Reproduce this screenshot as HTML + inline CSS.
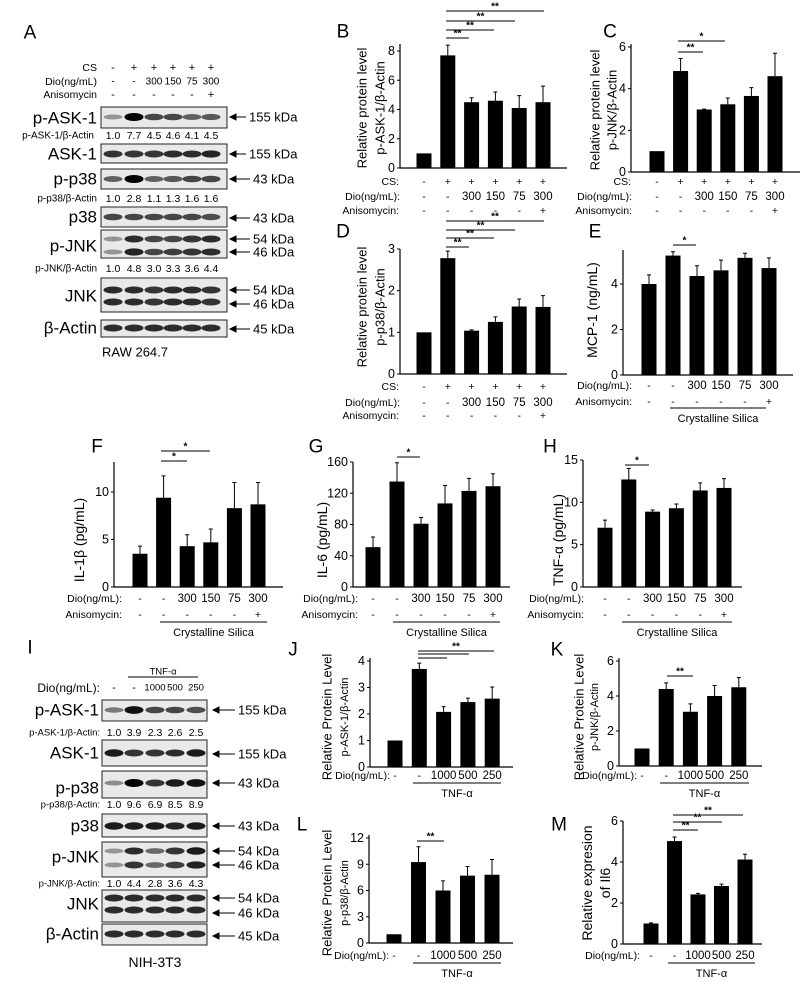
<!DOCTYPE html>
<html><head><meta charset="utf-8">
<style>
html,body{margin:0;padding:0;background:#fff;}
svg{display:block;font-family:"Liberation Sans",Arial,sans-serif;}
</style></head>
<body>
<svg id="fig" width="802" height="982" viewBox="0 0 802 982" xmlns="http://www.w3.org/2000/svg"></svg>
<script>
// ---- chart data ----
const csRow = ['-', '+', '+', '+', '+', '+'];
const dioRow = ['-', '-', '300', '150', '75', '300'];
const anisoRow = ['-', '-', '-', '-', '-', '+'];
const tnfDioRow = ['-', '-', '1000', '500', '250'];

const bVals = [1.0, 7.7, 4.5, 4.6, 4.1, 4.5];
const bErr = [1.0, 8.4, 4.8, 5.2, 4.95, 5.6];
const bTicks = [0, 2, 4, 6, 8];

const cVals = [1.0, 4.85, 3.0, 3.25, 3.65, 4.6];
const cErr = [1.0, 5.45, 3.02, 3.55, 4.05, 5.7];
const cTicks = [0, 2, 4, 6];

const dVals = [1.0, 2.78, 1.04, 1.25, 1.62, 1.61];
const dErr = [1.0, 2.95, 1.06, 1.37, 1.8, 1.88];
const dTicks = [0, 1, 2, 3];

const eVals = [4.0, 5.25, 4.35, 4.6, 5.15, 4.7];
const eErr = [4.4, 5.42, 4.8, 5.05, 5.35, 5.15];
const eTicks = [0, 2, 4];

const fVals = [3.5, 9.4, 4.3, 4.7, 8.3, 8.7];
const fErr = [4.3, 11.7, 5.5, 6.1, 11.0, 11.0];
const fTicks = [0, 5, 10];

const gVals = [51, 135, 81, 107, 123, 129];
const gErr = [64, 159, 89, 130, 139, 145];
const gTicks = [0, 40, 80, 120, 160];

const hVals = [7.0, 12.7, 8.9, 9.3, 11.4, 11.7];
const hErr = [7.9, 14.0, 9.1, 9.8, 12.3, 12.8];
const hTicks = [0, 5, 10, 15];

const jVals = [1.0, 3.7, 2.08, 2.45, 2.58];
const jErr = [1.0, 3.92, 2.28, 2.6, 3.02];
const jTicks = [0, 1, 2, 3, 4];

const kVals = [1.0, 4.4, 3.1, 4.0, 4.5];
const kErr = [1.0, 4.75, 3.55, 4.6, 5.05];
const kTicks = [0, 2, 4, 6];

const lVals = [1.0, 9.25, 6.0, 7.7, 7.8];
const lErr = [1.0, 11.0, 7.1, 8.75, 9.55];
const lTicks = [0, 3, 6, 9, 12];

const mVals = [1.0, 5.02, 2.42, 2.83, 4.12];
const mErr = [1.03, 5.22, 2.47, 2.92, 4.38];
const mTicks = [0, 2, 4, 6];

// ---- helpers ----
const NS = 'http://www.w3.org/2000/svg';
const svg = document.getElementById('fig');
function mk(tag, attrs, parent) {
  const e = document.createElementNS(NS, tag);
  for (const k in attrs) e.setAttribute(k, attrs[k]);
  (parent || svg).appendChild(e);
  return e;
}
function txt(x, y, s, size, anchor, parent, extra) {
  const t = mk('text', Object.assign({x: x, y: y, 'font-size': size, 'text-anchor': anchor || 'middle', 'dominant-baseline': 'central', fill: '#000'}, extra || {}), parent);
  t.textContent = s;
  return t;
}
function group(name) {
  const g = mk('g', {});
  
  
  return g;
}

// ---- chart drawing ----
function chart(name, L, vals, errs, ticks, rows, titles) {
  const g = group(name);
  const ys = v => L.y0 - (v / L.yMax) * (L.y0 - L.yTop);
  const xs = i => L.x0 + L.off + i * L.step;
  const ya = mk('line', {x1: L.x0, y1: L.axisTop, x2: L.x0, y2: L.y0, stroke: '#000', 'stroke-width': 1.2}, g);
  
  
  const xa = mk('line', {x1: L.x0, y1: L.y0, x2: L.xEnd, y2: L.y0, stroke: '#000', 'stroke-width': 1.2}, g);
  
  
  ticks.forEach(t => {
    const y = ys(t);
    mk('line', {x1: L.x0 - 3, y1: y, x2: L.x0, y2: y, stroke: '#000', 'stroke-width': 1}, g);
    const tl = txt(L.x0 - 5, y, String(t), 12.5, 'end', g);
    
    
  });
  vals.forEach((v, i) => {
    const x = xs(i);
    const bar = mk('rect', {x: x - 7.5, y: ys(v), width: 15, height: L.y0 - ys(v), fill: '#000'}, g);
    
    
    const e = errs[i];
    if (e > v) {
      const eb = mk('path', {d: 'M' + x + ' ' + ys(v) + 'V' + ys(e) + 'M' + (x - 2) + ' ' + ys(e) + 'H' + (x + 2), stroke: '#000', 'stroke-width': 1, fill: 'none'}, g);
      
      
    }
  });
  rows.forEach(r => {
    const lab = txt(r.lx, r.y, r.label, 10.5, 'end', g);
    
    
    r.items.forEach((s, i) => {
      const c = txt(xs(i), r.y, s, s.length > 1 ? 11.5 : 10.5, 'middle', g);
      
      
    });
  });
  titles.forEach(t => {
    const tt = txt(t.x, t.y, t.s, t.size || 13, 'middle', g, {transform: 'rotate(-90 ' + t.x + ' ' + t.y + ')'});
    
    
  });
  return g;
}
function sig(g, x1, x2, y, stars) {
  const l = mk('line', {x1: x1, y1: y, x2: x2, y2: y, stroke: '#000', 'stroke-width': 1}, g);
  
  
  const s = txt((x1 + x2) / 2, y - 4, stars, 10, 'middle', g, {'font-weight': 'bold'});
  
  
}
function bracket(g, x1, x2, y, label) {
  const l = mk('line', {x1: x1, y1: y, x2: x2, y2: y, stroke: '#000', 'stroke-width': 1}, g);
  
  
  const t = txt((x1 + x2) / 2, y + 11, label, 11, 'middle', g);
  
  
}
function letter(x, y, s) {
  const t = txt(x, y, s, 19, 'middle');
  
  
}

// B
let gB = chart('chart-b', {x0: 400, y0: 168, yTop: 51, yMax: 8, axisTop: 44, xEnd: 567, off: 24, step: 23.8}, bVals, bErr, bTicks,
  [{label: 'CS:', lx: 399, y: 182, items: csRow}, {label: 'Dio(ng/mL):', lx: 400, y: 197, items: dioRow}, {label: 'Anisomycin:', lx: 399, y: 211, items: anisoRow}],
  [{x: 362, y: 108, s: 'Relative protein level'}, {x: 380, y: 108, s: 'p-ASK-1/β-Actin'}]);
sig(gB, 446, 469, 38, '**'); sig(gB, 446, 494, 30, '**'); sig(gB, 446, 515, 21, '**'); sig(gB, 446, 544, 11, '**');
// C
let gC = chart('chart-c', {x0: 631, y0: 172, yTop: 47, yMax: 6, axisTop: 44, xEnd: 800, off: 26, step: 23.6}, cVals, cErr, cTicks,
  [{label: 'CS:', lx: 631, y: 182, items: csRow}, {label: 'Dio(ng/mL):', lx: 632, y: 197, items: dioRow}, {label: 'Anisomycin:', lx: 632, y: 211, items: anisoRow}],
  [{x: 595, y: 110, s: 'Relative protein level'}, {x: 612, y: 110, s: 'p-JNK/β-Actin'}]);
sig(gC, 678, 703, 52, '**'); sig(gC, 678, 725, 41, '*');
// D
let gD = chart('chart-d', {x0: 400, y0: 374, yTop: 249, yMax: 3, axisTop: 249, xEnd: 567, off: 24, step: 23.8}, dVals, dErr, dTicks,
  [{label: 'CS:', lx: 399, y: 387, items: csRow}, {label: 'Dio(ng/mL):', lx: 400, y: 403, items: dioRow}, {label: 'Anisomycin:', lx: 399, y: 416, items: anisoRow}],
  [{x: 362, y: 307, s: 'Relative protein level'}, {x: 380, y: 307, s: 'p-p38/β-Actin'}]);
sig(gD, 446, 469, 247, '**'); sig(gD, 446, 494, 238, '**'); sig(gD, 446, 515, 230, '**'); sig(gD, 446, 544, 221, '**');
// E
let gE = chart('chart-e', {x0: 623, y0: 375, yTop: 284, yMax: 4, axisTop: 250, xEnd: 793, off: 26, step: 24}, eVals, eErr, eTicks,
  [{label: 'Dio(ng/mL):', lx: 632, y: 386, items: dioRow}, {label: 'Anisomycin:', lx: 632, y: 402, items: anisoRow}],
  [{x: 592, y: 310, s: 'MCP-1 (ng/mL)', size: 14}]);
sig(gE, 673, 696, 245, '*'); bracket(gE, 670, 766, 408, 'Crystalline Silica');
// F
let gF = chart('chart-f', {x0: 114, y0: 587, yTop: 492, yMax: 10, axisTop: 462, xEnd: 283, off: 26, step: 23.6}, fVals, fErr, fTicks,
  [{label: 'Dio(ng/mL):', lx: 122, y: 599, items: dioRow}, {label: 'Anisomycin:', lx: 122, y: 615, items: anisoRow}],
  [{x: 79, y: 540, s: 'IL-1β (pg/mL)', size: 14}]);
sig(gF, 161, 187, 461, '*'); sig(gF, 161, 210, 451, '*'); bracket(gF, 160, 267, 622, 'Crystalline Silica');
// G
let gG = chart('chart-g', {x0: 353, y0: 587, yTop: 462, yMax: 160, axisTop: 462, xEnd: 510, off: 20, step: 24}, gVals, gErr, gTicks,
  [{label: 'Dio(ng/mL):', lx: 358, y: 599, items: dioRow}, {label: 'Anisomycin:', lx: 358, y: 615, items: anisoRow}],
  [{x: 322, y: 540, s: 'IL-6 (pg/mL)', size: 14}]);
sig(gG, 397, 420, 457, '*'); bracket(gG, 393, 500, 622, 'Crystalline Silica');
// H
let gH = chart('chart-h', {x0: 583, y0: 587, yTop: 460, yMax: 15, axisTop: 460, xEnd: 742, off: 22, step: 23.8}, hVals, hErr, hTicks,
  [{label: 'Dio(ng/mL):', lx: 584, y: 599, items: dioRow}, {label: 'Anisomycin:', lx: 584, y: 615, items: anisoRow}],
  [{x: 558, y: 540, s: 'TNF-α (pg/mL)', size: 14}]);
sig(gH, 625, 649, 465, '*'); bracket(gH, 622, 732, 622, 'Crystalline Silica');
// J
let gJ = chart('chart-j', {x0: 370, y0: 767, yTop: 661, yMax: 4, axisTop: 658, xEnd: 513, off: 25, step: 24.3}, jVals, jErr, jTicks,
  [{label: 'Dio(ng/mL):', lx: 390, y: 776, items: tnfDioRow}],
  [{x: 327, y: 717, s: 'Relative Protein Level'}, {x: 345, y: 717, s: 'p-ASK-1/β-Actin', size: 11}]);
sig(gJ, 418, 447, 658, ''); sig(gJ, 418, 469, 654, ''); sig(gJ, 418, 494, 651, '**');
bracket(gJ, 413, 501, 783, 'TNF-α');
// K
let gK = chart('chart-k', {x0: 619, y0: 766, yTop: 661, yMax: 6, axisTop: 658, xEnd: 762, off: 23, step: 24.2}, kVals, kErr, kTicks,
  [{label: 'Dio(ng/mL):', lx: 637, y: 776, items: tnfDioRow}],
  [{x: 579, y: 717, s: 'Relative Protein Level'}, {x: 595, y: 717, s: 'p-JNK/β-Actin', size: 11}]);
sig(gK, 667, 693, 676, '**'); bracket(gK, 660, 749, 783, 'TNF-α');
// L
let gL = chart('chart-l', {x0: 369, y0: 943, yTop: 838, yMax: 12, axisTop: 835, xEnd: 513, off: 25, step: 24.5}, lVals, lErr, lTicks,
  [{label: 'Dio(ng/mL):', lx: 389, y: 956, items: tnfDioRow}],
  [{x: 327, y: 893, s: 'Relative Protein Level'}, {x: 345, y: 893, s: 'p-p38/β-Actin', size: 11}]);
sig(gL, 417, 444, 841, '**'); bracket(gL, 413, 501, 963, 'TNF-α');
// M
let gM = chart('chart-m', {x0: 623, y0: 944, yTop: 821, yMax: 6, axisTop: 821, xEnd: 762, off: 28, step: 23.5}, mVals, mErr, mTicks,
  [{label: 'Dio(ng/mL):', lx: 640, y: 956, items: tnfDioRow}],
  [{x: 587, y: 883, s: 'Relative expresion', size: 14}, {x: 605, y: 883, s: 'of Il6', size: 14}]);
sig(gM, 673, 698, 830, '**'); sig(gM, 673, 722, 822, '**'); sig(gM, 673, 743, 815, '**');
bracket(gM, 668, 755, 963, 'TNF-α');

// ---- Western blots ----
function blot(g, name, x0, y0, x1, y1, lanes, bands) {
  const bg = group(name);
  g.appendChild(bg);
  const b = mk('rect', {x: x0, y: y0, width: x1 - x0, height: y1 - y0, fill: '#e9e9e9', stroke: '#222', 'stroke-width': 1}, bg);
  
  
  bands.forEach(bd => {
    lanes.forEach((lx, i) => {
      const k = bd.int[i];
      const r = mk('ellipse', {cx: lx, cy: bd.y, rx: 9.5, ry: 2.2 + 1.8 * k, fill: '#000', opacity: 0.25 + 0.75 * k}, bg);
      
      
    });
  });
}
function arrow(g, x1, x2, y, label) {
  const l = mk('path', {d: 'M' + x1 + ' ' + y + 'H' + x2 + 'M' + x1 + ' ' + y + 'l6 -3v6z', stroke: '#000', 'stroke-width': 1, fill: '#000'}, g);
  
  
  const t = txt(x2 + 3, y, label, 13, 'start', g);
  
  
}
function lbl(g, x, y, s, size, anchor, name) {
  const t = txt(x, y, s, size, anchor || 'end', g);
  
  
}

// Panel A
const gA = group('panel-a-blots');
const lanesA = [113, 134, 154, 173, 192, 211];
const aRatioASK = ['1.0', '7.7', '4.5', '4.6', '4.1', '4.5'];
const aRatioP38 = ['1.0', '2.8', '1.1', '1.3', '1.6', '1.6'];
const aRatioJNK = ['1.0', '4.8', '3.0', '3.3', '3.6', '4.4'];
lbl(gA, 97, 68, 'CS', 10.5, 'end', 'row-label-cs');
lbl(gA, 97, 82, 'Dio(ng/mL)', 10.5, 'end', 'row-label-dio');
lbl(gA, 97, 95, 'Anisomycin', 10.5, 'end', 'row-label-anisomycin');
lanesA.forEach((x, i) => {
  lbl(gA, x, 68, csRow[i], 11, 'middle', 'lane-cs');
  lbl(gA, x, 82, dioRow[i], 10, 'middle', 'lane-dio');
  lbl(gA, x, 95, anisoRow[i], 11, 'middle', 'lane-aniso');
});
blot(gA, 'blot-p-ask1', 101, 107, 227, 128, lanesA, [{y: 117, int: [0.15, 1, 0.6, 0.6, 0.45, 0.5]}]);
blot(gA, 'blot-ask1', 101, 144, 227, 163, lanesA, [{y: 154, int: [0.7, 0.7, 0.7, 0.75, 0.75, 0.8]}]);
blot(gA, 'blot-p-p38', 101, 169, 227, 189, lanesA, [{y: 179, int: [0.45, 1, 0.45, 0.5, 0.6, 0.6]}]);
blot(gA, 'blot-p38', 101, 207, 227, 227, lanesA, [{y: 217, int: [0.6, 0.6, 0.6, 0.6, 0.6, 0.55]}]);
blot(gA, 'blot-p-jnk', 101, 230, 227, 258, lanesA, [{y: 239, int: [0.15, 0.75, 0.6, 0.6, 0.7, 0.75]}, {y: 252, int: [0.15, 0.8, 0.6, 0.65, 0.7, 0.75]}]);
blot(gA, 'blot-jnk', 101, 278, 227, 312, lanesA, [{y: 290, int: [0.75, 0.75, 0.7, 0.75, 0.75, 0.7]}, {y: 302, int: [0.75, 0.75, 0.7, 0.75, 0.75, 0.7]}]);
blot(gA, 'blot-actin', 101, 320, 227, 337, lanesA, [{y: 328, int: [0.75, 0.75, 0.75, 0.75, 0.75, 0.75]}]);
lbl(gA, 97, 118, 'p-ASK-1', 17, 'end', 'blot-label');
lbl(gA, 97, 154, 'ASK-1', 17, 'end', 'blot-label');
lbl(gA, 97, 179, 'p-p38', 17, 'end', 'blot-label');
lbl(gA, 97, 217, 'p38', 17, 'end', 'blot-label');
lbl(gA, 97, 246, 'p-JNK', 17, 'end', 'blot-label');
lbl(gA, 97, 296, 'JNK', 17, 'end', 'blot-label');
lbl(gA, 97, 328, 'β-Actin', 17, 'end', 'blot-label');
lbl(gA, 94, 136, 'p-ASK-1/β-Actin', 10, 'end', 'ratio-label');
lbl(gA, 97, 199, 'p-p38/β-Actin', 10, 'end', 'ratio-label');
lbl(gA, 97, 269, 'p-JNK/β-Actin', 10, 'end', 'ratio-label');
lanesA.forEach((x, i) => {
  lbl(gA, x, 136, aRatioASK[i], 10.5, 'middle', 'ratio-value');
  lbl(gA, x, 199, aRatioP38[i], 10.5, 'middle', 'ratio-value');
  lbl(gA, x, 269, aRatioJNK[i], 10.5, 'middle', 'ratio-value');
});
arrow(gA, 230, 246, 117, '155 kDa'); arrow(gA, 230, 246, 154, '155 kDa');
arrow(gA, 230, 250, 179, '43 kDa'); arrow(gA, 230, 250, 218, '43 kDa');
arrow(gA, 230, 250, 239, '54 kDa'); arrow(gA, 230, 250, 252, '46 kDa');
arrow(gA, 230, 250, 290, '54 kDa'); arrow(gA, 230, 250, 304, '46 kDa');
arrow(gA, 230, 250, 329, '45 kDa');
lbl(gA, 135, 352, 'RAW 264.7', 13, 'middle', 'cell-line-label');

// Panel I
const gI = group('panel-i-blots');
const lanesI = [114, 134, 155, 175, 196];
const iRatioASK = ['1.0', '3.9', '2.3', '2.6', '2.5'];
const iRatioP38 = ['1.0', '9.6', '6.9', '8.5', '8.9'];
const iRatioJNK = ['1.0', '4.4', '2.8', '3.6', '4.3'];
lbl(gI, 163, 672, 'TNF-α', 9.5, 'middle', 'tnf-label');
const tl = mk('line', {x1: 128, y1: 677, x2: 198, y2: 677, stroke: '#000', 'stroke-width': 1}, gI);


lbl(gI, 100, 688, 'Dio(ng/mL):', 12, 'end', 'row-label-dio');
lanesI.forEach((x, i) => lbl(gI, x, 688, tnfDioRow[i], tnfDioRow[i].length > 1 ? 9.5 : 11, 'middle', 'lane-dio'));
blot(gI, 'blot-p-ask1-i', 102, 700, 207, 721, lanesI, [{y: 710, int: [0.3, 0.9, 0.6, 0.6, 0.55]}]);
blot(gI, 'blot-ask1-i', 102, 740, 207, 766, lanesI, [{y: 753, int: [0.85, 0.7, 0.7, 0.75, 0.85]}]);
blot(gI, 'blot-p-p38-i', 102, 771, 207, 798, lanesI, [{y: 783, int: [0.2, 1, 0.7, 0.85, 0.9]}]);
blot(gI, 'blot-p38-i', 102, 814, 207, 837, lanesI, [{y: 826, int: [0.85, 0.85, 0.85, 0.8, 0.85]}]);
blot(gI, 'blot-p-jnk-i', 102, 842, 207, 877, lanesI, [{y: 851, int: [0.15, 0.75, 0.4, 0.7, 0.85]}, {y: 865, int: [0.15, 0.7, 0.4, 0.65, 0.8]}]);
blot(gI, 'blot-jnk-i', 102, 890, 207, 922, lanesI, [{y: 898, int: [0.75, 0.75, 0.75, 0.75, 0.75]}, {y: 910, int: [0.75, 0.75, 0.75, 0.75, 0.75]}]);
blot(gI, 'blot-actin-i', 102, 924, 207, 945, lanesI, [{y: 934, int: [0.75, 0.75, 0.75, 0.75, 0.75]}]);
lbl(gI, 99, 710, 'p-ASK-1', 17, 'end', 'blot-label');
lbl(gI, 99, 753, 'ASK-1', 17, 'end', 'blot-label');
lbl(gI, 99, 788, 'p-p38', 17, 'end', 'blot-label');
lbl(gI, 99, 826, 'p38', 17, 'end', 'blot-label');
lbl(gI, 99, 857, 'p-JNK', 17, 'end', 'blot-label');
lbl(gI, 99, 904, 'JNK', 17, 'end', 'blot-label');
lbl(gI, 99, 934, 'β-Actin', 17, 'end', 'blot-label');
lbl(gI, 100, 733, 'p-ASK-1/β-Actin:', 9.5, 'end', 'ratio-label');
lbl(gI, 100, 805, 'p-p38/β-Actin:', 9.5, 'end', 'ratio-label');
lbl(gI, 100, 884, 'p-JNK/β-Actin:', 9.5, 'end', 'ratio-label');
lanesI.forEach((x, i) => {
  lbl(gI, x, 733, iRatioASK[i], 10.5, 'middle', 'ratio-value');
  lbl(gI, x, 805, iRatioP38[i], 10.5, 'middle', 'ratio-value');
  lbl(gI, x, 884, iRatioJNK[i], 10.5, 'middle', 'ratio-value');
});
arrow(gI, 213, 235, 710, '155 kDa'); arrow(gI, 213, 235, 754, '155 kDa');
arrow(gI, 213, 235, 783, '43 kDa'); arrow(gI, 213, 235, 826, '43 kDa');
arrow(gI, 213, 235, 851, '54 kDa'); arrow(gI, 213, 235, 865, '46 kDa');
arrow(gI, 213, 235, 898, '54 kDa'); arrow(gI, 213, 235, 913, '46 kDa');
arrow(gI, 213, 235, 936, '45 kDa');
lbl(gI, 155, 962, 'NIH-3T3', 14, 'middle', 'cell-line-label');

// Panel letters
letter(30, 33, 'A'); letter(343, 32, 'B'); letter(610, 32, 'C');
letter(343, 232, 'D'); letter(595, 232, 'E');
letter(97, 447, 'F'); letter(316, 447, 'G'); letter(550, 447, 'H');
letter(30, 648, 'I'); letter(293, 650, 'J'); letter(557, 650, 'K');
letter(302, 825, 'L'); letter(559, 825, 'M');
</script>
</body></html>
